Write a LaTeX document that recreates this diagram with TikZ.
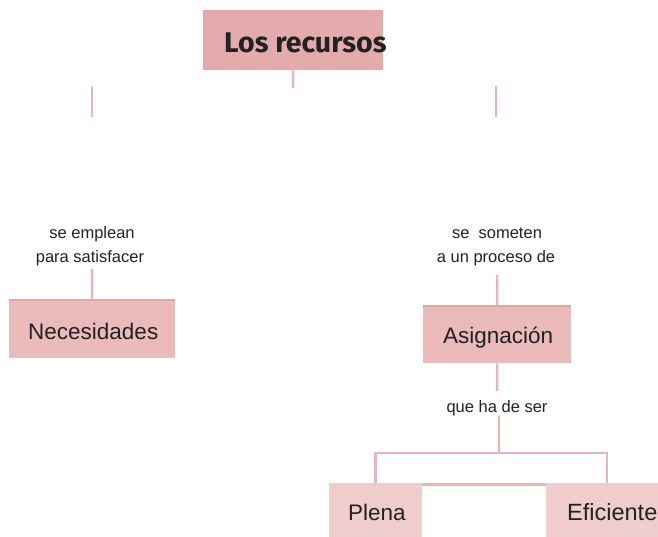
\documentclass[tikz,border=0pt]{standalone}
\usepackage{fontspec}
\setmainfont{Liberation Sans}
\newfontfamily\titlefont{Fira Sans}
\definecolor{topfill}{HTML}{E3ABAB}
\definecolor{midfill}{HTML}{EBBABA}
\definecolor{midedge}{HTML}{E2A6A6}
\definecolor{lowfill}{HTML}{EFCDCD}
\definecolor{linec}{HTML}{E9B5B5}
\definecolor{txt}{HTML}{222222}
\tikzset{
  conn/.style={draw=linec, line width=2.5pt},
  boxtop/.style={fill=topfill, draw=none, inner sep=0pt, anchor=north west},
  boxmid/.style={fill=midfill, draw=none, inner sep=0pt, anchor=north west},
  boxlow/.style={fill=lowfill, draw=none, inner sep=0pt, anchor=north west},
  edgeline/.style={draw=midedge, line width=2pt},
  bigtxt/.style={anchor=base west, inner sep=0pt, text=txt, font=\fontsize{22.5}{26}\selectfont},
  smalltxt/.style={anchor=base, inner sep=0pt, text=txt, font=\fontsize{16.5}{20}\selectfont},
}
\begin{document}
\begin{tikzpicture}[x=1pt,y=-1pt]
\useasboundingbox (0,0) rectangle (658,536);
\clip (0,0) rectangle (658,536);
% coordinates for free line ends
\coordinate (r1) at (293,88);
\coordinate (la) at (92,87);
\coordinate (lb) at (92,117);
\coordinate (ra) at (496,86);
\coordinate (rb) at (496,117);
\coordinate (lc) at (92,269);
\coordinate (rc) at (497,275);
\coordinate (rd) at (497,391);
\coordinate (qa) at (499,416);
\coordinate (fork) at (499,453);
% boxes
\node[boxtop, minimum width=180pt, minimum height=60pt] (rec) at (203,10) {};
\node[boxmid, minimum width=166pt, minimum height=59pt] (nec) at (9,299) {};
\node[boxmid, minimum width=148pt, minimum height=58pt] (asg) at (423,305) {};
\node[boxlow, minimum width=93pt, minimum height=60pt] (pl) at (329,483) {};
\node[boxlow, minimum width=122pt, minimum height=60pt] (ef) at (546,483) {};
% connectors
\draw[conn] (rec.south) -- (r1);
\draw[conn] (la) -- (lb);
\draw[conn] (ra) -- (rb);
\draw[conn] (lc) -- (nec.north);
\draw[conn] (rc) -- (asg.north);
\draw[conn] (asg.south) -- (rd);
\draw[conn] (qa) -- (fork);
\draw[conn] (pl.north) |- (fork) -| (ef.north);
\draw[conn] ([yshift=-1.5pt]pl.north east) -- ([yshift=-1.5pt]ef.north west);
% top edges
\draw[edgeline] ([yshift=-1pt]nec.north west) -- ([yshift=-1pt]nec.north east);
\draw[edgeline] ([yshift=-1pt]asg.north west) -- ([yshift=-1pt]asg.north east);
% texts
\node[anchor=base west, inner sep=0pt, text=txt, font=\titlefont\bfseries\fontsize{28.5}{32}\selectfont] (rect) at (224,52) {Los recursos};
\node[bigtxt] (nect) at (28,339) {Necesidades};
\node[bigtxt] (asgt) at (443,343) {Asignación};
\node[bigtxt] (plt) at (348,520) {Plena};
\node[bigtxt, font=\fontsize{23.5}{26}\selectfont] (eft) at (567,520) {Eficiente};
\node[smalltxt] (emp1) at (92,238) {se emplean};
\node[smalltxt] (emp2) at (90,262) {para satisfacer};
\node[smalltxt] (som1) at (497,238) {se\ \ someten};
\node[smalltxt] (som2) at (496,262) {a\ un\ proceso\ de};
\node[smalltxt] (que) at (497,412) {que ha de ser};
\end{tikzpicture}
\end{document}
